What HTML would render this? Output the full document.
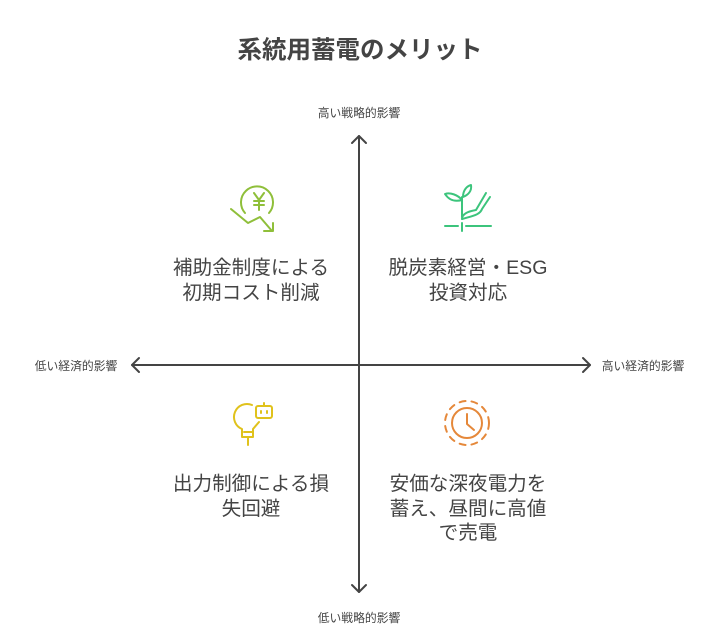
<!DOCTYPE html>
<html><head><meta charset="utf-8"><style>
body{margin:0;width:720px;height:638px;background:#fff;font-family:"Liberation Sans","Noto Sans CJK JP",sans-serif;color:#444;position:relative;overflow:hidden}
.t{position:absolute;white-space:nowrap;text-align:center}
.q{font-size:19.6px;line-height:24.5px;color:#444}
.a{font-size:11.8px;color:#444}
</style></head><body>
<div class="t" style="left:0;width:720px;top:31px;font-size:24.5px;font-weight:bold;color:#444">系統用蓄電のメリット</div>
<div class="t a" style="left:309px;width:100px;top:104px">高い戦略的影響</div>
<div class="t a" style="left:309px;width:100px;top:609px">低い戦略的影響</div>
<div class="t a" style="left:26px;width:100px;top:357px">低い経済的影響</div>
<div class="t a" style="left:593px;width:100px;top:357px">高い経済的影響</div>
<svg width="720" height="638" style="position:absolute;left:0;top:0" fill="none" stroke-linecap="round" stroke-linejoin="round">
<g stroke="#444" stroke-width="2">
<line x1="359" y1="136" x2="359" y2="592"/><line x1="132" y1="365" x2="590" y2="365"/>
<polyline points="352,143 359,136 366,143"/><polyline points="352,585 359,592 366,585"/>
<polyline points="139,358 132,365 139,372"/><polyline points="583,358 590,365 583,372"/>
</g>
<g stroke="#8fbf3a" stroke-width="2">
<path d="M245,213 A16,16 0 1 1 269,213"/>
<path d="M254,193 l5,7 l5,-7 M259,200 v10 M254,201 h10 M254,205 h10"/>
<polyline points="231,209 248,223 260,217 272,231"/><polyline points="264,231 273,231 273,223"/>
</g>
<g stroke="#3cc47c" stroke-width="2">
<line x1="445" y1="226" x2="458" y2="226"/><line x1="462" y1="223" x2="462" y2="231"/><line x1="466" y1="226" x2="491" y2="226"/>
<path d="M462,219 c10,-3 18,-4 20,-10 l8,-12"/><path d="M462,219 c0,-6 8,-8 14,-9 l10,-17"/>
<path d="M462,217 v-20"/><path d="M462,200 c-4,-5 -12,-8 -17,-6 c4,6 10,8 17,6z"/><path d="M463,197 c0,-7 4,-11 8,-12 c1,6 -3,10 -8,12z"/>
</g>
<g stroke="#e0c21c" stroke-width="2">
<path d="M252,405 a13,13 0 1 0 -10,24 v8 h11 v-8 l6,-7"/><line x1="244" y1="432" x2="252" y2="432"/><line x1="248" y1="437" x2="248" y2="445"/>
<rect x="256" y="406" width="16" height="12" rx="2"/><line x1="264" y1="406" x2="264" y2="403"/><line x1="261" y1="411" x2="261" y2="413"/><line x1="267" y1="411" x2="267" y2="413"/>
</g>
<g stroke="#e5883a" stroke-width="2">
<circle cx="467" cy="423" r="15"/><polyline points="467,414 467,424 474,430"/>
<circle cx="467" cy="423" r="22" stroke-dasharray="6 6"/>
</g>
</svg>
<div class="t q" style="left:151px;width:200px;top:256px">補助金制度による<br>初期コスト削減</div>
<div class="t q" style="left:368px;width:200px;top:256px">脱炭素経営・ESG<br>投資対応</div>
<div class="t q" style="left:151px;width:200px;top:472px">出力制御による損<br>失回避</div>
<div class="t q" style="left:368px;width:200px;top:472px">安価な深夜電力を<br>蓄え、昼間に高値<br>で売電</div>
</body></html>
